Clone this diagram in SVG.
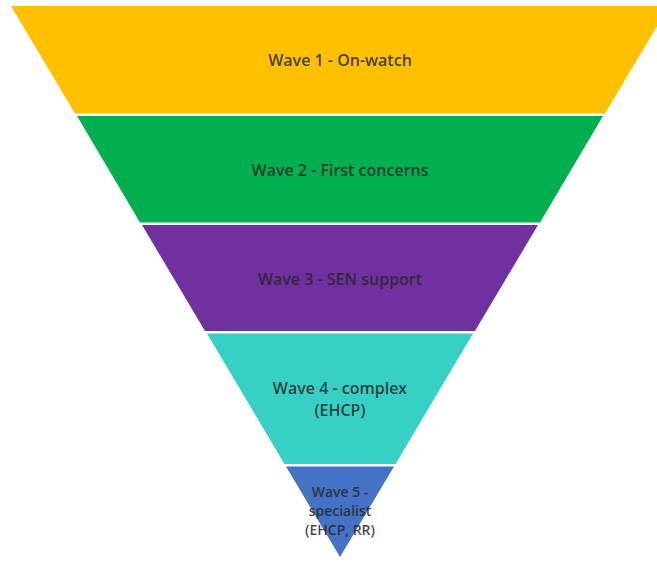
<svg xmlns="http://www.w3.org/2000/svg" width="657" height="562" viewBox="0 0 657 562">
<style>
.lbl{font-family:"Open Sans","Liberation Sans",sans-serif;font-size:16px;font-weight:600;fill:#262626;fill-opacity:0.85;text-anchor:middle}
.sm{font-size:14px}
</style>
<rect width="657" height="562" fill="#ffffff"/>
<g id="wave1">
<polygon points="11,6 669,6 605,113.5 75,113.5" fill="#FFC000"/>
<text class="lbl" x="340" y="66">Wave 1 - On-watch</text>
</g>
<g id="wave2">
<polygon points="77,116 603,116 540,222.5 140,222.5" fill="#00B050"/>
<text class="lbl" x="340" y="176">Wave 2 - First concerns</text>
</g>
<g id="wave3">
<polygon points="142,225 538,225 475,331 205,331" fill="#7030A0"/>
<text class="lbl" x="340" y="285">Wave 3 - SEN support</text>
</g>
<g id="wave4">
<polygon points="207,333.5 473,333.5 395.5,464 284.5,464" fill="#36D0C4"/>
<text class="lbl" x="340" y="394">Wave 4 - complex</text>
<text class="lbl" x="340" y="416">(EHCP)</text>
</g>
<g id="wave5">
<polygon points="286,466.5 394,466.5 340,557" fill="#4472C4"/>
<text class="lbl sm" x="340" y="497">Wave 5 -</text>
<text class="lbl sm" x="340" y="516">specialist</text>
<text class="lbl sm" x="340" y="535">(EHCP, RR)</text>
</g>
</svg>
